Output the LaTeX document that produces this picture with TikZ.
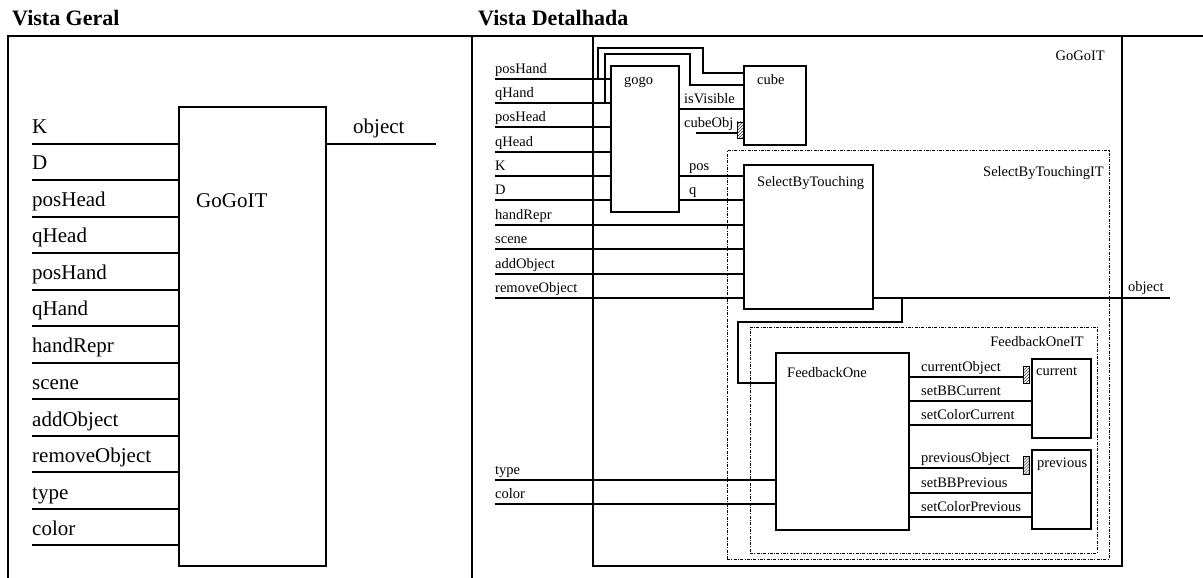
\documentclass[tikz,border=0pt]{standalone}
\usepackage{fontspec}
\setmainfont{Liberation Serif}[BoldFont={Liberation Serif Bold}]
\usetikzlibrary{patterns}
\tikzset{
  wire/.style={line width=1.3bp},
  blk/.style={draw, line width=1.3bp, inner sep=0pt, outer sep=0pt, anchor=north west},
  itbox/.style={draw, line width=1bp, dash pattern=on 3bp off 1.3bp on 1bp off 1.3bp, inner sep=0pt, outer sep=0pt, anchor=north west},
  port/.style={draw, line width=0.7bp, pattern=north east lines, inner sep=0pt, outer sep=0pt, anchor=north west, minimum width=6bp},
  bigtxt/.style={font=\fontsize{21bp}{24bp}\selectfont, inner sep=0pt, anchor=base west},
  smtxt/.style={font=\fontsize{14.5bp}{17bp}\selectfont, inner sep=0pt, anchor=base west},
  ttl/.style={font=\bfseries\fontsize{22bp}{26bp}\selectfont, inner sep=0pt, anchor=base west},
}
\begin{document}
\begin{tikzpicture}[x=1bp,y=-1bp]
\useasboundingbox (0,0) rectangle (1203,578);
% titles
\node[ttl] (t1) at (12,26) {Vista Geral};
\node[ttl] (t2) at (478,26) {Vista Detalhada};
% frames
\node[blk, minimum width=464bp, minimum height=580bp] (vg) at (8,36) {};
\node[blk, minimum width=760bp, minimum height=580bp] (vd) at (472,36) {};

% ---------- left panel ----------
\node[blk, minimum width=147bp, minimum height=459bp] (gg) at (179,107) {};
\node[bigtxt] (ggl) at (196,208) {GoGoIT};
\foreach \n/\y in {K/144, D/180, posHead/217, qHead/253, posHand/290, qHand/326, handRepr/363, scene/399, addObject/436, removeObject/472, type/509, color/545} {
  \coordinate (L\n) at (32,\y);
  \draw[wire] (L\n) -- (L\n -| gg.west);
  \node[bigtxt] (Lt\n) at ([yshift=10bp]L\n) {\n};
}
\coordinate (Lobj) at (436,144);
\draw[wire] (gg.east |- Lobj) -- (Lobj);
\node[bigtxt] (Lobjt) at (353,134) {object};

% ---------- right panel ----------
\node[blk, minimum width=529bp, minimum height=530bp] (go) at (593,36) {};
\node[smtxt, anchor=base east] (gol) at (1105,61) {GoGoIT};

\node[blk, minimum width=68bp, minimum height=146bp] (gogo) at (611,66) {};
\node[smtxt] (gogol) at (624,85) {gogo};
\node[blk, minimum width=62bp, minimum height=79bp] (cube) at (744,66) {};
\node[smtxt] (cubel) at (757,85) {cube};
\node[port, minimum height=16bp] (portA) at (737,122) {};

\node[itbox, minimum width=382bp, minimum height=408bp] (sbtit) at (727,151) {};
\node[smtxt, anchor=base east] (sbtitl) at (1104,177) {SelectByTouchingIT};
\node[blk, minimum width=129bp, minimum height=144bp] (sbt) at (744,165) {};
\node[smtxt] (sbtl) at (757,187) {SelectByTouching};

\node[itbox, minimum width=347bp, minimum height=226bp] (fbit) at (750,327) {};
\node[smtxt, anchor=base east] (fbitl) at (1084,347) {FeedbackOneIT};
\node[blk, minimum width=133bp, minimum height=177bp] (fb) at (776,353) {};
\node[smtxt] (fbl) at (787,377) {FeedbackOne};

\node[blk, minimum width=59bp, minimum height=79bp] (cur) at (1032,359) {};
\node[smtxt] (curl) at (1036,375) {current};
\node[blk, minimum width=59bp, minimum height=79bp] (prev) at (1032,450) {};
\node[smtxt] (prevl) at (1037,467) {previous};
\node[port, minimum height=17bp] (portB) at (1023,366) {};
\node[port, minimum height=18bp] (portC) at (1023,456) {};

% inputs
\foreach \n/\y/\t in {posHand/79/gogo, qHand/103/gogo, posHead/127/gogo, qHead/152/gogo, K/176/gogo, D/200/gogo, handRepr/225/sbt, scene/249/sbt, addObject/274/sbt, removeObject/298/sbt, type/480/fb, color/504/fb} {
  \coordinate (R\n) at (495,\y);
  \draw[wire] (R\n) -- (R\n -| \t.west);
  \node[smtxt] (Rt\n) at ([yshift=5.5bp]R\n) {\n};
}
% branches to cube
\coordinate (jA) at (598,79);
\coordinate (kA) at (703,48);
\draw[wire] (jA) |- (kA) |- (cube.west |- 0,73);
\coordinate (jB) at (605,103);
\coordinate (kB) at (690,54);
\draw[wire] (jB) |- (kB) |- (cube.west |- 0,85);

% gogo outputs
\draw[wire] (gogo.east |- 0,109) -- (cube.west |- 0,109);
\node[smtxt] (isv) at (684,103.5) {isVisible};
\coordinate (cObj) at (696,133);
\draw[wire] (cObj) -- (portA.west |- cObj);
\node[smtxt] (cobl) at (684,127.5) {cubeObj};
\draw[wire] (gogo.east |- 0,176) -- (sbt.west |- 0,176);
\node[smtxt] (posl) at (689,170.5) {pos};
\draw[wire] (gogo.east |- 0,200) -- (sbt.west |- 0,200);
\node[smtxt] (ql) at (689,194.5) {q};

% object output
\coordinate (Robj) at (1170,298);
\draw[wire] (sbt.east |- Robj) -- (Robj);
\node[smtxt] (Robjt) at (1128,292) {object};

% feedback loop
\coordinate (jC) at (902,298);
\coordinate (kC) at (738,322);
\draw[wire] (jC) |- (kC) |- (fb.west |- 0,383);

% feedback outputs
\foreach \n/\y/\t in {currentObject/377/portB, setBBCurrent/401/cur, setColorCurrent/425/cur, previousObject/468/portC, setBBPrevious/493/prev, setColorPrevious/517/prev} {
  \coordinate (F\n) at (909,\y);
  \draw[wire] (fb.east |- F\n) -- (\t.west |- F\n);
  \node[smtxt] (Ft\n) at ([yshift=5.5bp]921,\y) {\n};
}
\end{tikzpicture}
\end{document}
